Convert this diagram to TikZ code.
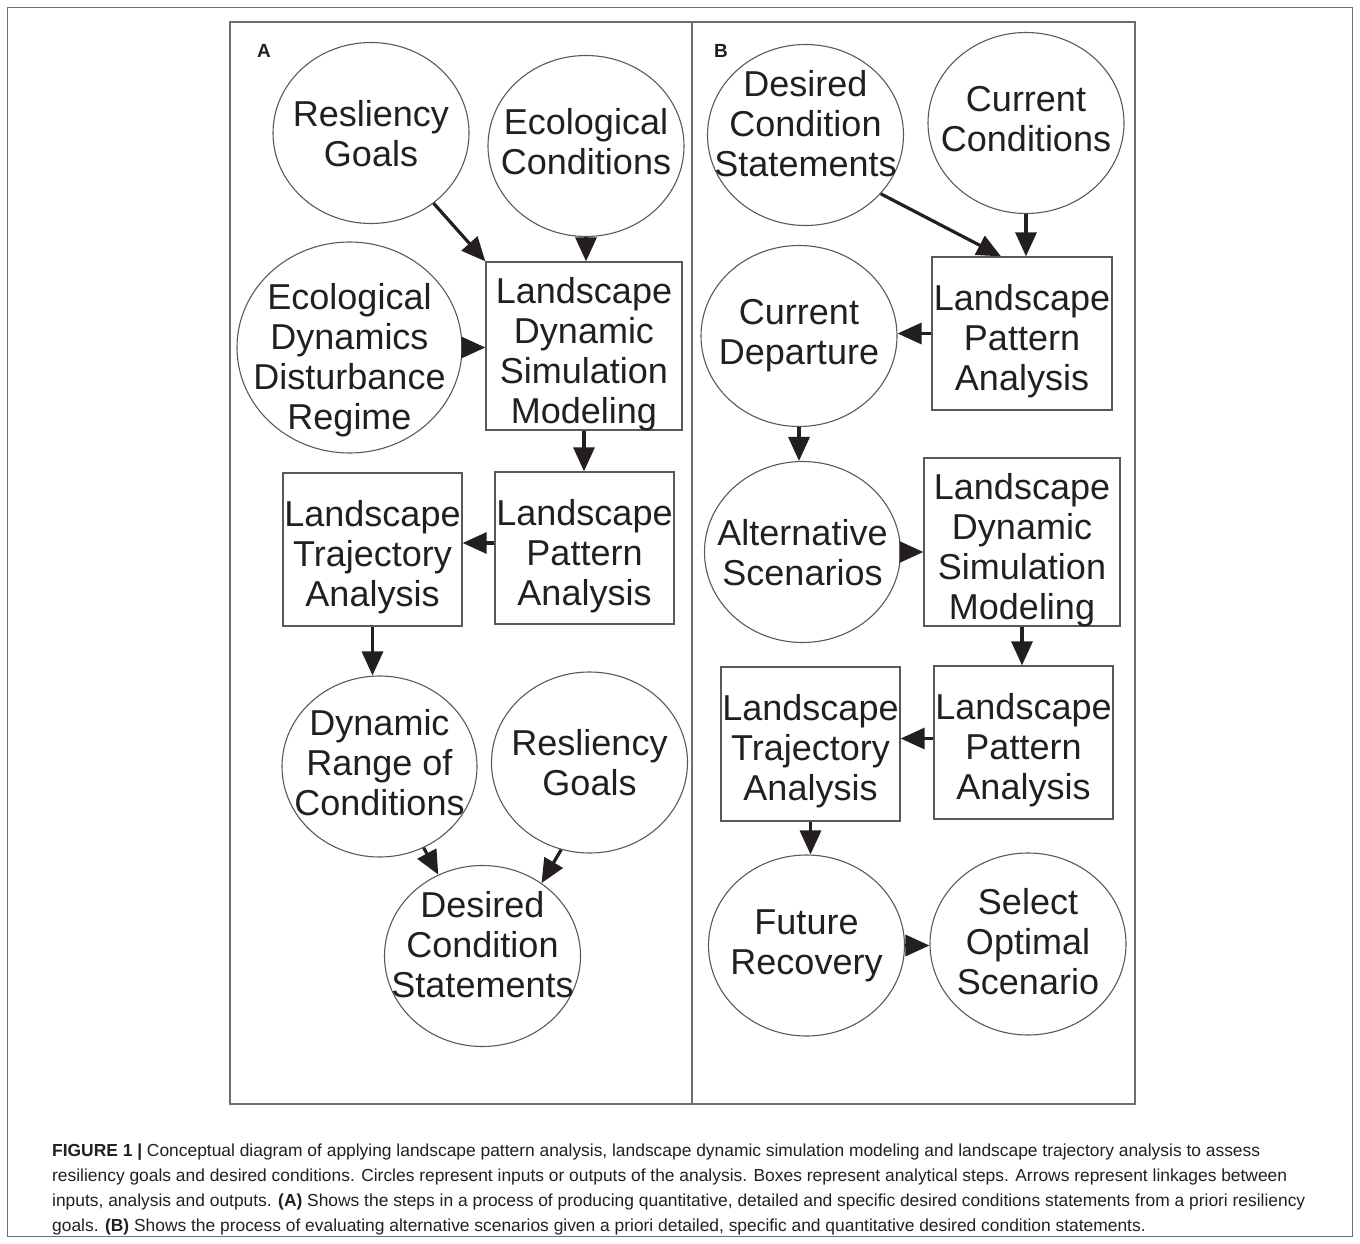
\documentclass[tikz,border=0pt]{standalone}
\usepackage{fontspec}
\setmainfont{Liberation Sans}
\usetikzlibrary{arrows.meta,shapes.geometric}
\definecolor{ink}{HTML}{231F20}
\definecolor{framec}{HTML}{6D6E70}
\definecolor{edgec}{HTML}{58595B}
\newcommand\ctext[2][0pt]{\makebox[0pt]{\raisebox{\dimexpr0.5\depth-0.5\height-4pt-#1\relax}[0pt][0pt]{\begin{tabular}{@{}c@{}}#2\end{tabular}}}}
\tikzset{
  nodefont/.style={font=\fontsize{36}{40}\selectfont, text=ink},
  ell/.style={nodefont, draw=edgec, line width=1.1pt, ellipse, inner sep=0pt,
              minimum width=196pt, minimum height=181pt},
  bx/.style 2 args={nodefont, draw=edgec, line width=1.3pt, rectangle, inner sep=0pt,
              minimum width=#1pt, minimum height=#2pt},
  arr/.style={draw=ink, line width=3.2pt, -{Triangle[length=24pt,width=21pt]}},
  frm/.style={draw=framec, line width=1.5pt},
  plabel/.style={font=\bfseries\fontsize{19}{22}\selectfont, text=ink, inner sep=0pt},
}
\begin{document}
\begin{tikzpicture}[x=1pt,y=-1pt]
\useasboundingbox (0,0) rectangle (1360,1244);
% frames
\draw[frm] (7.5,7.5) rectangle (1352.5,1236.5);
\draw[frm] (230,22) rectangle (1135,1104);
\draw[frm] (692,22) -- (692,1104);
\node[plabel] (labA) at (264,51) {A};
\node[plabel] (labB) at (721,51) {B};

% ---------- Panel A ----------
\node[ell] (rgA) at (371,133) {\ctext[2pt]{Resliency\\Goals}};
\node[ell] (ecA) at (586,146) {\ctext[-3.5pt]{Ecological\\Conditions}};
\node[ell, minimum width=225pt, minimum height=211pt] (eddr) at (349.5,347.5)
  {\ctext[10pt]{Ecological\\Dynamics\\Disturbance\\Regime}};
\node[bx={196}{168}] (ldsmA) at (584,346) {\ctext[5pt]{Landscape\\Dynamic\\Simulation\\Modeling}};
\node[bx={179}{152}] (lpaA) at (584.5,548) {\ctext[5pt]{Landscape\\Pattern\\Analysis}};
\node[bx={179}{153}] (ltaA) at (372.5,549.5) {\ctext[5pt]{Landscape\\Trajectory\\Analysis}};
\node[ell, minimum width=195pt] (drc) at (379.5,766.5) {\ctext[-3pt]{Dynamic\\Range of\\Conditions}};
\node[ell] (rgA2) at (589.5,762.5) {\ctext[1pt]{Resliency\\Goals}};
\node[ell] (dcsA) at (482.5,956) {\ctext[-11pt]{Desired\\Condition\\Statements}};

\draw[arr] (rgA) -- (ldsmA.north west);
\draw[arr] (ecA.south) -- (ecA.south |- ldsmA.north);
\draw[arr] (eddr.east) -- (eddr.east -| ldsmA.west);
\draw[arr] (ldsmA.south) -- (ldsmA.south |- lpaA.north);
\draw[arr] ([yshift=5pt]lpaA.west) -- ([yshift=5pt]lpaA.west -| ltaA.east);
\draw[arr] (ltaA.south) -- (ltaA.south |- drc.north);
\draw[arr] (drc) -- (dcsA);
\draw[arr] (rgA2.252) -- (dcsA.51);

% ---------- Panel B ----------
\node[ell] (dcsB) at (805.5,135) {\ctext[-10pt]{Desired\\Condition\\Statements}};
\node[ell] (cc) at (1026,123) {\ctext[-3pt]{Current\\Conditions}};
\node[bx={180}{153}] (lpaB) at (1022,333.5) {\ctext[5pt]{Landscape\\Pattern\\Analysis}};
\node[ell] (cd) at (799,336) {\ctext[-4pt]{Current\\Departure}};
\node[ell] (as) at (802.5,552) {\ctext[1pt]{Alternative\\Scenarios}};
\node[bx={196}{168}] (ldsmB) at (1022,542) {\ctext[5pt]{Landscape\\Dynamic\\Simulation\\Modeling}};
\node[bx={179}{153}] (lpaB2) at (1023.5,742.5) {\ctext[5pt]{Landscape\\Pattern\\Analysis}};
\node[bx={179}{154}] (ltaB) at (810.5,744) {\ctext[4pt]{Landscape\\Trajectory\\Analysis}};
\node[ell] (fr) at (806.5,945.5) {\ctext[-3pt]{Future\\Recovery}};
\node[ell, minimum height=182pt] (sos) at (1028,944) {\ctext[-2pt]{Select\\Optimal\\Scenario}};

\draw[arr] (dcsB.322) -- ([xshift=-21pt]lpaB.north);
\draw[arr] (cc.south) -- (cc.south |- lpaB.north);
\draw[arr] (lpaB.west) -- (lpaB.west -| cd.east);
\draw[arr] (cd.south) -- (cd.south |- as.north);
\draw[arr] (as.east) -- (as.east -| ldsmB.west);
\draw[arr] (ldsmB.south) -- (ldsmB.south |- lpaB2.north);
\draw[arr] ([yshift=4pt]lpaB2.west) -- ([yshift=4pt]lpaB2.west -| ltaB.east);
\draw[arr] (ltaB.south) -- (ltaB.south |- fr.north);
\draw[arr] (fr.east) -- (fr.east -| sos.west);

% ---------- Caption ----------
\node[anchor=north west, inner sep=0pt, align=left,
      font=\fontsize{17.4}{25}\selectfont, text=ink] (cap) at (52,1144)
{\textbf{FIGURE 1 |} Conceptual diagram of applying landscape pattern analysis, landscape dynamic simulation modeling and landscape trajectory analysis to assess\\
resiliency goals and desired conditions. Circles represent inputs or outputs of the analysis. Boxes represent analytical steps. Arrows represent linkages between\\
inputs, analysis and outputs. \textbf{(A)} Shows the steps in a process of producing quantitative, detailed and specific desired conditions statements from a priori resiliency\\
goals. \textbf{(B)} Shows the process of evaluating alternative scenarios given a priori detailed, specific and quantitative desired condition statements.};
\end{tikzpicture}
\end{document}
